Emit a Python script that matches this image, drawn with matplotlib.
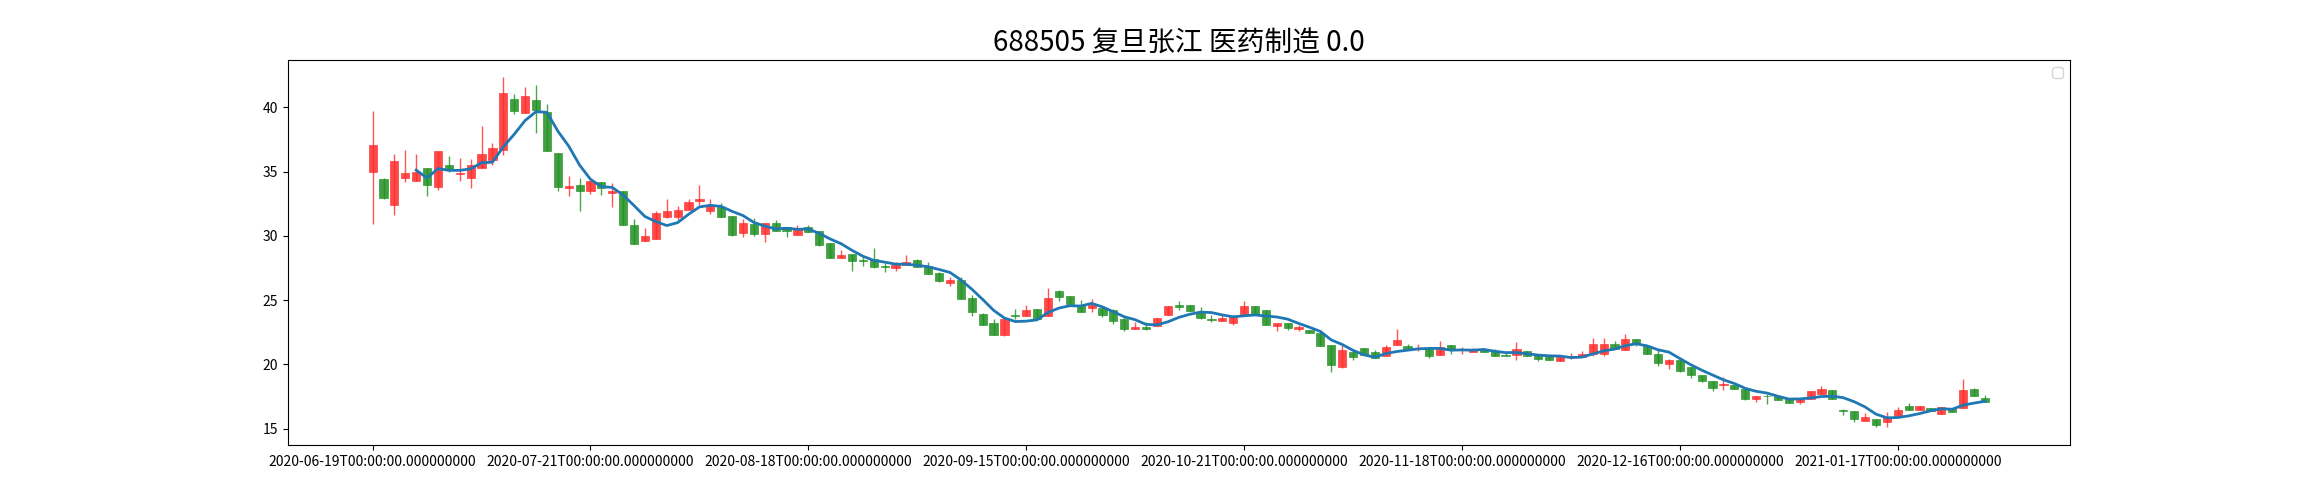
import numpy as np
import pandas as pd
import matplotlib
matplotlib.use("Agg")
import matplotlib.pyplot as plt

plt.rcParams["font.family"] = ["Noto Sans CJK SC", "DejaVu Sans"]
plt.rcParams["axes.unicode_minus"] = False

TITLE = "688505 复旦张江 医药制造 0.0"

tick_pos = [0, 20, 40, 60, 80, 100, 120, 140]
tick_labels = [
    "2020-06-19T00:00:00.000000000",
    "2020-07-21T00:00:00.000000000",
    "2020-08-18T00:00:00.000000000",
    "2020-09-15T00:00:00.000000000",
    "2020-10-21T00:00:00.000000000",
    "2020-11-18T00:00:00.000000000",
    "2020-12-16T00:00:00.000000000",
    "2021-01-17T00:00:00.000000000",
]

opens = [
    35.0, 34.42, 32.43, 34.48, 34.29, 35.28, 33.83, 35.51, 34.78, 34.5,
    35.3, 35.9, 36.65, 40.62, 39.53, 40.54, 39.68, 36.42, 33.7, 33.96,
    33.52, 34.19, 33.31, 33.47, 30.85, 29.61, 29.79, 31.5, 31.5, 32.05,
    32.74, 31.97, 32.28, 31.53, 30.26, 30.9, 30.18, 30.98, 30.72, 30.1,
    30.67, 30.39, 29.43, 28.31, 28.6, 28.13, 28.21, 27.65, 27.51, 27.74,
    28.13, 27.64, 27.12, 26.32, 26.58, 25.18, 23.91, 23.23, 22.3, 23.86,
    23.73, 24.32, 23.73, 25.67, 25.28, 24.63, 24.38, 24.38, 24.25, 23.49,
    22.72, 22.9, 22.95, 23.81, 24.58, 24.58, 24.01, 23.55, 23.39, 23.24,
    23.88, 24.53, 24.2, 22.95, 23.21, 22.72, 22.64, 22.43, 21.47, 19.79,
    20.96, 21.27, 20.93, 20.65, 21.47, 21.45, 21.2, 21.22, 20.7, 21.5,
    21.15, 20.93, 21.14, 21.04, 20.75, 20.75, 21.04, 20.75, 20.65, 20.23,
    20.6, 20.55, 20.83, 20.8, 21.61, 21.09, 21.99, 21.4, 20.83, 20.0,
    20.36, 19.79, 19.15, 18.71, 18.4, 18.42, 18.11, 17.26, 17.54, 17.52,
    17.33, 17.07, 17.28, 17.72, 18.03, 16.42, 16.35, 15.57, 15.73, 15.52,
    15.99, 16.74, 16.43, 16.63, 16.12, 16.63, 16.61, 18.06, 17.41,
]
closes = [
    37.07, 32.92, 35.82, 34.86, 34.94, 33.98, 36.6, 35.12, 34.86, 35.51,
    36.37, 36.83, 41.11, 39.73, 40.87, 39.81, 36.57, 33.83, 33.88, 33.47,
    34.27, 33.72, 33.52, 30.88, 29.4, 30.0, 31.79, 31.94, 32.02, 32.64,
    32.87, 32.43, 31.5, 30.1, 31.01, 30.18, 31.01, 30.41, 30.36, 30.6,
    30.33, 29.25, 28.26, 28.52, 28.03, 28.03, 27.61, 27.59, 27.74, 28.0,
    27.61, 27.04, 26.52, 26.6, 25.07, 24.04, 23.03, 22.3, 23.55, 23.73,
    24.19, 23.55, 25.18, 25.23, 24.66, 24.06, 24.58, 23.81, 23.34, 22.72,
    22.9, 22.77, 23.62, 24.53, 24.43, 24.12, 23.62, 23.44, 23.62, 23.68,
    24.53, 23.94, 23.03, 23.24, 22.85, 22.87, 22.43, 21.42, 19.92, 21.08,
    20.57, 20.7, 20.49, 21.34, 21.86, 21.09, 21.24, 20.65, 21.35, 21.17,
    21.19, 21.14, 20.93, 20.65, 20.65, 21.22, 20.65, 20.42, 20.36, 20.55,
    20.64, 20.83, 21.61, 21.61, 21.22, 21.99, 21.56, 20.8, 20.08, 20.31,
    19.5, 19.15, 18.68, 18.19, 18.44, 18.06, 17.28, 17.52, 17.5, 17.2,
    16.97, 17.33, 17.9, 18.06, 17.33, 16.38, 15.78, 15.86, 15.26, 15.9,
    16.48, 16.43, 16.74, 16.35, 16.69, 16.3, 18.03, 17.52, 17.07,
]
highs = [
    39.7, 34.5, 36.37, 36.68, 36.37, 35.28, 36.6, 36.18, 36.05, 35.98,
    38.57, 37.22, 42.33, 41.03, 41.6, 41.73, 40.25, 36.42, 34.63, 34.5,
    34.27, 34.19, 34.09, 33.47, 31.32, 30.62, 31.97, 32.87, 32.3, 32.87,
    33.96, 32.87, 32.56, 31.53, 31.32, 31.36, 31.01, 31.24, 30.72, 30.85,
    30.85, 30.39, 29.43, 28.91, 28.6, 28.47, 29.07, 27.87, 27.95, 28.52,
    28.2, 27.95, 27.17, 26.78, 26.78, 25.41, 24.01, 23.55, 23.55, 24.32,
    24.63, 24.32, 25.95, 25.75, 25.28, 24.97, 25.05, 24.38, 24.32, 23.67,
    23.29, 23.29, 23.62, 24.53, 24.92, 24.58, 24.5, 23.86, 23.88, 23.81,
    24.92, 24.53, 24.2, 23.24, 23.21, 23.08, 22.64, 22.43, 21.47, 21.5,
    21.16, 21.27, 21.08, 21.5, 22.72, 21.6, 21.6, 21.22, 21.79, 21.5,
    21.35, 21.27, 21.14, 21.17, 20.88, 21.74, 21.04, 20.75, 20.65, 20.55,
    20.88, 21.04, 22.05, 22.05, 21.81, 22.38, 21.99, 21.4, 21.09, 20.44,
    20.36, 19.79, 19.15, 18.71, 19.02, 18.42, 18.11, 17.52, 17.72, 17.52,
    17.33, 17.33, 17.9, 18.32, 18.03, 16.55, 16.35, 16.17, 15.73, 16.3,
    16.69, 16.95, 16.74, 16.63, 16.69, 16.63, 18.89, 18.19, 17.64,
]
lows = [
    30.9, 32.9, 31.65, 34.22, 34.29, 33.08, 33.57, 34.94, 34.29, 33.7,
    35.3, 35.51, 36.3, 39.5, 39.53, 38.0, 36.57, 33.5, 33.08, 31.9,
    33.26, 33.2, 32.22, 30.85, 29.33, 29.61, 29.79, 31.37, 31.27, 32.05,
    32.41, 31.71, 31.5, 29.97, 29.95, 30.02, 29.56, 30.36, 29.9, 30.1,
    30.28, 29.2, 28.26, 28.26, 27.23, 27.69, 27.48, 27.22, 27.3, 27.74,
    27.56, 27.04, 26.4, 26.08, 25.07, 23.75, 23.03, 22.3, 22.2, 23.5,
    23.73, 23.55, 23.73, 24.9, 24.66, 24.06, 24.06, 23.7, 23.16, 22.59,
    22.72, 22.65, 22.95, 23.81, 24.2, 24.12, 23.5, 23.3, 23.39, 23.03,
    23.88, 23.94, 23.03, 22.56, 22.64, 22.56, 22.43, 21.42, 19.4, 19.7,
    20.31, 20.7, 20.49, 20.65, 21.47, 21.09, 21.04, 20.5, 20.7, 20.83,
    20.83, 20.93, 20.93, 20.65, 20.65, 20.31, 20.65, 20.23, 20.36, 20.23,
    20.39, 20.55, 20.65, 20.65, 21.22, 21.09, 21.4, 20.8, 19.87, 19.66,
    19.4, 18.9, 18.6, 17.9, 18.03, 18.06, 17.2, 17.03, 16.9, 17.2,
    16.97, 16.9, 17.28, 17.72, 17.33, 16.04, 15.52, 15.57, 15.08, 15.08,
    15.99, 16.43, 16.43, 16.35, 16.12, 16.3, 16.61, 17.52, 17.07,
]

df = pd.DataFrame({"open": opens, "high": highs, "low": lows, "close": closes})
df["ma5"] = df["close"].rolling(5).mean()
x = np.arange(len(df))

fig, ax = plt.subplots(figsize=(23, 5), dpi=100)

up = df["close"] >= df["open"]
colors = np.where(up, "#ff2a2a", "#1f8f1f")
bottoms = np.minimum(df["open"], df["close"])
heights = np.abs(df["close"] - df["open"])
heights = np.maximum(heights, 0.05)

ax.vlines(x, df["low"], df["high"], colors=colors, linewidth=1, alpha=0.8)
ax.bar(x, heights, bottom=bottoms, width=0.75, color=colors, alpha=0.85,
       edgecolor=colors, linewidth=0.5)
ax.plot(x, df["ma5"], color="#1f77b4", linewidth=2)

ax.set_xticks(tick_pos)
ax.set_xticklabels(tick_labels, fontsize=10)
ax.tick_params(axis="y", labelsize=10)
ax.set_title(TITLE, fontsize=20)
ax.legend(handles=[], loc="upper right")

plt.savefig("out.png")
